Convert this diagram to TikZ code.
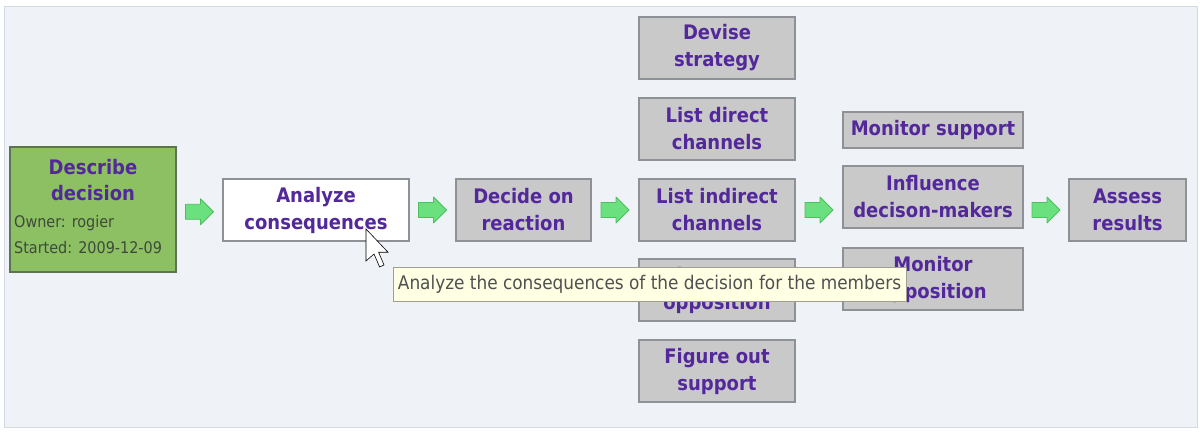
\documentclass[tikz,border=0pt]{standalone}
\usepackage{fontspec}
\setmainfont{DejaVu Sans Condensed}
\usetikzlibrary{calc}
\definecolor{panelbg}{HTML}{EFF3F7}
\definecolor{panelline}{HTML}{D3DAE2}
\definecolor{boxfill}{HTML}{C9C9C9}
\definecolor{boxline}{HTML}{8E9296}
\definecolor{txtpurple}{HTML}{52289A}
\definecolor{greenfill}{HTML}{8CC063}
\definecolor{greenline}{HTML}{5E7356}
\definecolor{greentxt}{HTML}{3E4A3A}
\definecolor{arrowfill}{HTML}{6BE07E}
\definecolor{arrowline}{HTML}{4CBF5E}
\definecolor{tipfill}{HTML}{FFFFE4}
\definecolor{tipline}{HTML}{A09F90}
\definecolor{tiptxt}{HTML}{505050}
\tikzset{
  task/.style={draw=boxline, line width=1.6pt, fill=boxfill, align=center,
    text=txtpurple, font=\fontsize{20}{27}\selectfont\bfseries, inner sep=0pt},
  whitetask/.style={task, fill=white},
  garrow/.style={draw=arrowline, fill=arrowfill, line width=0.8pt, line join=round}
}
\newcommand{\greenarrow}[1]{%
  \draw[garrow] (#1) ++(-14,-7.5) -- ++(15,0) -- ++(0,-5.5) -- ++(13,13) -- ++(-13,13) -- ++(0,-5.5) -- ++(-15,0) -- cycle;}
\begin{document}
\begin{tikzpicture}[x=1pt,y=-1pt]
\useasboundingbox (0,0) rectangle (1204,433);
\fill[white] (0,0) rectangle (1204,433);
\draw[panelline, fill=panelbg, line width=1pt] (4,7) rectangle (1197,427);

% first task
\node[draw=greenline, line width=1.6pt, fill=greenfill, minimum width=166pt, minimum height=125pt, inner sep=0pt] (describe) at (93,209.5) {};
\node[text=txtpurple, font=\fontsize{20}{26}\selectfont\bfseries, align=center, inner sep=0pt] (describet) at (93,180) {Describe\\decision};
\node[text=greentxt, font=\fontsize{16}{26}\selectfont, align=left, anchor=west, inner sep=0pt] (describeo) at (14,235) {Owner: rogier\\Started: 2009-12-09};

\node[whitetask, minimum width=186pt, minimum height=62pt] (analyze) at (316,210) {Analyze\\consequences};
\node[task, minimum width=135pt, minimum height=62pt] (decide) at (523.5,210) {Decide on\\reaction};

\node[task, minimum width=156pt, minimum height=62pt] (devise) at (717,48) {Devise\\strategy};
\node[task, minimum width=156pt, minimum height=62pt] (direct) at (717,129) {List direct\\channels};
\node[task, minimum width=156pt, minimum height=62pt] (indirect) at (717,210) {List indirect\\channels};
\node[task, minimum width=156pt, minimum height=62pt] (oppos) at (717,290) {Figure out\\opposition};
\node[task, minimum width=156pt, minimum height=62pt] (support) at (717,371) {Figure out\\support};

\node[task, minimum width=180pt, minimum height=36pt] (monsup) at (933,130) {Monitor support};
\node[task, minimum width=180pt, minimum height=62pt] (influence) at (933,197) {Influence\\decison-makers};
\node[task, minimum width=180pt, minimum height=62pt] (monopp) at (933,279) {Monitor\\opposition};

\node[task, minimum width=117pt, minimum height=62pt] (assess) at (1127.5,210) {Assess\\results};

% green arrows between steps
\coordinate (a1) at ($(describe.east)!0.5!(analyze.west)+(0,2)$);
\coordinate (a2) at ($(analyze.east)!0.5!(decide.west)$);
\coordinate (a3) at ($(decide.east)!0.5!(indirect.west)$);
\coordinate (a4) at ($(indirect.east)!0.5!(influence.west |- indirect.east)$);
\coordinate (a5) at ($(influence.east |- assess.west)!0.5!(assess.west)$);
\greenarrow{a1}
\greenarrow{a2}
\greenarrow{a3}
\greenarrow{a4}
\greenarrow{a5}

% tooltip
\node[draw=tipline, fill=tipfill, line width=0.8pt, minimum width=513pt, minimum height=34pt, inner sep=0pt, text=tiptxt, font=\fontsize{18.8}{20}\selectfont] (tip) at (649.5,284) {Analyze the consequences of the decision for the members};

% mouse cursor
\begin{scope}[shift={(366,229)}, scale=2.0]
\draw[black, fill=white, line width=0.6pt, line join=miter]
  (0,0) -- (0,16) -- (4,12.5) -- (6.8,19) -- (9,18) -- (6.3,11.6) -- (11,11.6) -- cycle;
\end{scope}
\end{tikzpicture}
\end{document}
